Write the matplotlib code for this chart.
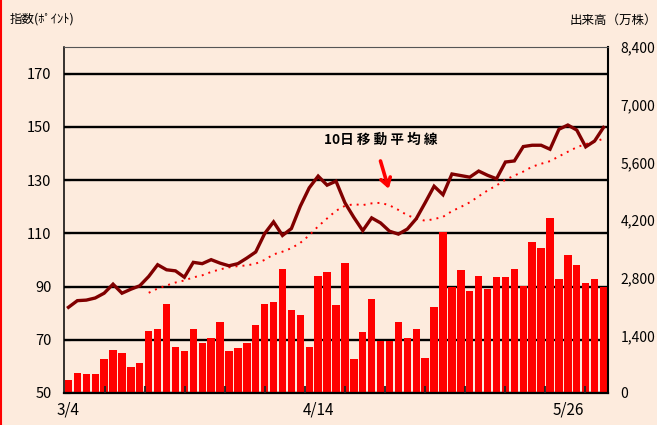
import numpy as np
import pandas as pd
import matplotlib
matplotlib.use("Agg")
import matplotlib.pyplot as plt
from matplotlib.lines import Line2D
from matplotlib.ticker import FuncFormatter

plt.rcParams['font.family'] = ['Noto Sans CJK JP', 'DejaVu Sans']

# 出来高(万株)
volume = [320, 490, 460, 460, 830, 1040, 970, 630, 730, 1500,
          1550, 2160, 1120, 1020, 1550, 1210, 1330, 1720, 1020, 1090,
          1210, 1650, 2160, 2210, 3010, 2010, 1890, 1120, 2840, 2940,
          2140, 3160, 830, 1480, 2280, 1260, 1260, 1720, 1330, 1550,
          850, 2090, 3910, 2570, 2990, 2480, 2840, 2520, 2820, 2820,
          3010, 2600, 3670, 3520, 4250, 2770, 3350, 3110, 2670, 2770,
          2570]

# 指数(ポイント)
index_pt = [82.2, 84.7, 84.9, 85.7, 87.5, 90.9, 87.5, 89.0, 90.3, 93.8,
            98.2, 96.3, 95.9, 93.5, 99.1, 98.6, 100.1, 98.8, 97.8, 98.6,
            100.7, 103.0, 109.9, 114.3, 109.2, 111.8, 120.2, 127.1, 131.5, 128.1,
            129.6, 121.5, 116.0, 111.0, 115.8, 113.9, 110.8, 109.7, 111.6, 115.5,
            121.5, 127.7, 124.5, 132.3, 131.7, 131.1, 133.4, 131.8, 130.5, 136.8,
            137.2, 142.6, 143.1, 143.1, 141.6, 149.1, 150.7, 148.8, 142.5, 144.7,
            149.8]

date_ticks = [0, 28, 56]
date_labels = ['3/4', '4/14', '5/26']

left_ticks = [50, 70, 90, 110, 130, 150, 170]
right_ticks = [0, 1400, 2800, 4200, 5600, 7000, 8400]

x = np.arange(len(volume))
ma10 = pd.Series(index_pt).rolling(10).mean()

bg = '#FDEBDD'
fig = plt.figure(figsize=(6.57, 4.25), dpi=100, facecolor=bg)

ax = fig.add_axes([0.0974, 0.0753, 0.828, 0.814])
ax.set_facecolor(bg)
ax.set_xlim(-0.5, len(volume) - 0.5)
ax.set_ylim(50, 180)
ax.set_yticks(left_ticks)
ax.yaxis.grid(True, color='black', lw=1.7)
ax.set_axisbelow(True)
ax.tick_params(axis='y', direction='in', length=4, pad=9, labelsize=10.5, colors='black')
for s in ax.spines.values():
    s.set_visible(False)

# bars
ax2 = ax.twinx()
ax2.bar(x, volume, width=0.83, color='#FF0000', zorder=2)
ax2.set_ylim(0, 8400)
ax2.set_yticks(right_ticks)
ax2.yaxis.set_major_formatter(FuncFormatter(lambda v, p: f'{int(v):,}'))
ax2.tick_params(axis='y', length=0, pad=9, labelsize=10)
ax2.spines['top'].set_color('#555555')
ax2.spines['top'].set_linewidth(0.8)
ax2.spines['left'].set_linewidth(1.1)
ax2.spines['right'].set_linewidth(1.5)
ax2.spines['bottom'].set_linewidth(1.6)

# lines
ax3 = ax.twinx()
ax3.set_ylim(50, 180)
ax3.yaxis.set_visible(False)
for s in ax3.spines.values():
    s.set_visible(False)
ax3.xaxis.set_visible(True)
ax3.plot(x, ma10, color='#FF0000', lw=1.4, linestyle=(0, (1, 2.6)))
ax3.plot(x, index_pt, color='#800000', lw=2.4, solid_joinstyle='miter')

ax3.set_xticks(date_ticks)
ax3.set_xticklabels(date_labels)
ax3.set_xticks(np.arange(4.1, 60.5, 4.485), minor=True)
ax3.tick_params(axis='x', which='major', length=0, pad=6, labelsize=11)
ax3.tick_params(axis='x', which='minor', direction='in', length=5, width=1.3, color='#222222')
ax.tick_params(axis='x', which='both', length=0, labelbottom=False)

ax3.text(35.05, 145, '10日 移 動 平 均 線', fontsize=9.8, fontweight='bold',
         ha='center', va='center', color='black')
ax3.annotate('', xy=(36.0, 125.7), xytext=(34.9, 138.2),
             arrowprops=dict(arrowstyle='->,head_length=0.55,head_width=0.35',
                             color='#FF0000', lw=2.6))

fig.text(10 / 657, 1 - 19 / 425, '指数(ﾎﾟｲﾝﾄ)', fontsize=9, va='center', ha='left')
fig.text(570 / 657, 1 - 20 / 425, '出来高（万株）', fontsize=9, va='center', ha='left')
fig.add_artist(Line2D([0.002, 0.002], [0, 1], color='#FF0000', lw=1.5,
                      transform=fig.transFigure))

fig.savefig('out.png', dpi=100, facecolor=bg)
